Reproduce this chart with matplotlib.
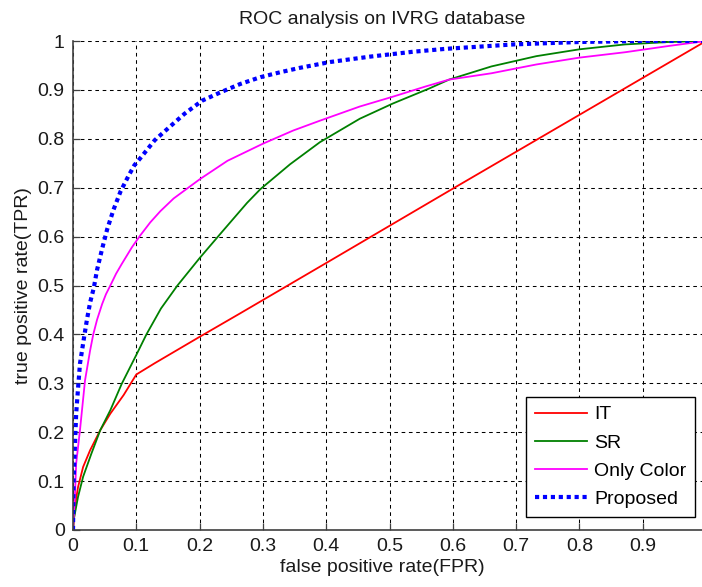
import matplotlib
matplotlib.use("Agg")
import matplotlib.pyplot as plt

plt.rcParams['font.family'] = ['Liberation Sans', 'DejaVu Sans']

# IT (red)
it_fpr = [0.0, 0.003, 0.008, 0.016, 0.027, 0.043, 0.059, 0.08, 0.10, 0.129, 0.20, 0.264, 0.40, 0.60, 0.80, 1.0]
it_tpr = [0.0, 0.048, 0.088, 0.129, 0.163, 0.204, 0.238, 0.276, 0.318, 0.341, 0.395, 0.443, 0.546, 0.698, 0.849, 1.0]

# SR (green)
sr_fpr = [0.0, 0.001, 0.008, 0.016, 0.029, 0.043, 0.059, 0.077, 0.10, 0.116, 0.139, 0.165,
          0.20, 0.233, 0.255, 0.275, 0.296, 0.343, 0.39, 0.453, 0.505, 0.563, 0.594,
          0.661, 0.732, 0.80, 0.872, 0.942, 1.0]
sr_tpr = [0.0, 0.02, 0.068, 0.109, 0.156, 0.204, 0.245, 0.299, 0.358, 0.40, 0.453, 0.50,
          0.556, 0.606, 0.639, 0.669, 0.697, 0.748, 0.793, 0.841, 0.872, 0.903, 0.921,
          0.948, 0.969, 0.983, 0.993, 0.998, 1.0]

# Only Color (magenta)
oc_fpr = [0.0, 0.003, 0.005, 0.011, 0.019, 0.027, 0.032, 0.038, 0.046, 0.052, 0.059, 0.068,
          0.077, 0.093, 0.106, 0.122, 0.138, 0.159, 0.18, 0.201, 0.244, 0.30, 0.348, 0.39,
          0.453, 0.505, 0.557, 0.594, 0.661, 0.732, 0.80, 0.872, 0.942, 1.0]
oc_tpr = [0.0, 0.068, 0.136, 0.204, 0.306, 0.367, 0.40, 0.43, 0.462, 0.482, 0.50, 0.524,
          0.544, 0.578, 0.602, 0.629, 0.652, 0.678, 0.698, 0.718, 0.755, 0.79, 0.817, 0.837,
          0.866, 0.886, 0.907, 0.921, 0.934, 0.952, 0.966, 0.977, 0.99, 1.0]

# Proposed (blue dotted)
pr_fpr = [0.0, 0.001, 0.003, 0.005, 0.008, 0.011, 0.017, 0.022, 0.027, 0.033, 0.038, 0.046,
          0.054, 0.064, 0.075, 0.088, 0.097, 0.108, 0.129, 0.155, 0.176, 0.204, 0.233, 0.264,
          0.296, 0.327, 0.358, 0.406, 0.469, 0.537, 0.589, 0.696, 0.80, 0.90, 1.0]
pr_tpr = [0.0, 0.102, 0.17, 0.238, 0.29, 0.34, 0.39, 0.43, 0.465, 0.496, 0.532, 0.575,
          0.615, 0.655, 0.692, 0.725, 0.746, 0.763, 0.797, 0.827, 0.851, 0.878, 0.895, 0.912,
          0.926, 0.936, 0.945, 0.957, 0.968, 0.978, 0.984, 0.993, 0.998, 1.0, 1.0]

labels = ['IT', 'SR', 'Only Color', 'Proposed']
xticks = [0, 0.1, 0.2, 0.3, 0.4, 0.5, 0.6, 0.7, 0.8, 0.9, 1.0]
xticklabels = ['0', '0.1', '0.2', '0.3', '0.4', '0.5', '0.6', '0.7', '0.8', '0.9', '']
yticks = [0, 0.1, 0.2, 0.3, 0.4, 0.5, 0.6, 0.7, 0.8, 0.9, 1.0]
yticklabels = ['0', '0.1', '0.2', '0.3', '0.4', '0.5', '0.6', '0.7', '0.8', '0.9', '1']

W, H = 702, 587
fig = plt.figure(figsize=(W / 100, H / 100), dpi=100)
x0, x1, y0, y1 = 73, 706, 530, 41
ax = fig.add_axes([x0 / W, 1 - y0 / H, (x1 - x0) / W, (y0 - y1) / H])

lw = 1.3
ax.plot(it_fpr, it_tpr, color='#ff0000', lw=lw, label=labels[0])
ax.plot(sr_fpr, sr_tpr, color='#008000', lw=lw, label=labels[1])
ax.plot(oc_fpr, oc_tpr, color='#ff00ff', lw=lw, label=labels[2])
ax.plot(pr_fpr, pr_tpr, color='#0000ff', lw=3.0, linestyle=(0, (1.0, 0.9)),
        dash_capstyle='butt', label=labels[3])

ax.set_xlim(0, 1)
ax.set_ylim(0, 1)
ax.set_xticks(xticks)
ax.set_xticklabels(xticklabels)
ax.set_yticks(yticks)
ax.set_yticklabels(yticklabels)

ax.grid(True, color='black', linestyle=(0, (3.5, 3.5)), linewidth=0.75)
ax.set_axisbelow(True)

for s in ['top', 'right']:
    ax.spines[s].set_visible(False)
for s in ['left', 'bottom']:
    ax.spines[s].set_color('#404040')
    ax.spines[s].set_linewidth(1.2)

fs = 14
ax.tick_params(direction='in', length=5, width=0.9, color='#404040',
               labelsize=fs, labelcolor='#1a1a1a', pad=6)

tx = (382 - x0) / (x1 - x0)
ax.set_title('ROC analysis on IVRG database', fontsize=fs, color='#1a1a1a', pad=12, x=tx)
ax.set_xlabel('false positive rate(FPR)', fontsize=fs, color='#1a1a1a', labelpad=3, x=tx)
ax.set_ylabel('true positive rate(TPR)', fontsize=fs, color='#1a1a1a', labelpad=4)

leg = ax.legend(loc='lower right', bbox_to_anchor=(695 / W, 1 - 517 / H),
                bbox_transform=fig.transFigure, borderaxespad=0,
                fontsize=fs, frameon=True, fancybox=False,
                edgecolor='black', framealpha=1.0, handlelength=2.7,
                labelspacing=0.55, handletextpad=0.35, borderpad=0.45)
leg.get_frame().set_linewidth(1.0)

fig.savefig('out.png', dpi=100)
